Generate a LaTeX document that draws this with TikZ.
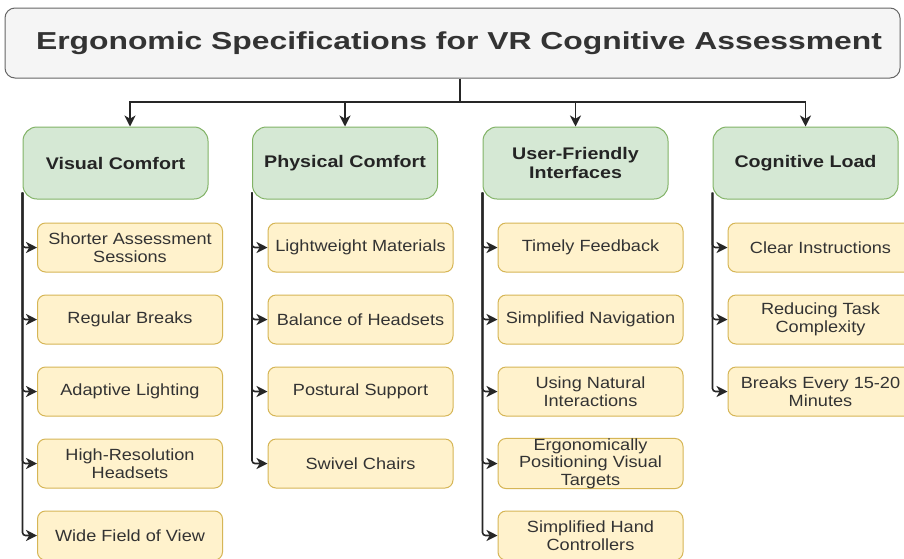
\documentclass[tikz,border=0pt]{standalone}
\usepackage{fontspec}
\setmainfont{Liberation Sans}
\newfontfamily\titlef[FakeStretch=1.3]{Liberation Sans}
\newfontfamily\catf[FakeStretch=1.17]{Liberation Sans}
\newfontfamily\childf[FakeStretch=1.12]{Liberation Sans}
\usetikzlibrary{arrows.meta}
\definecolor{titlefill}{HTML}{F5F5F5}
\definecolor{titledraw}{HTML}{666666}
\definecolor{txt}{HTML}{333333}
\definecolor{catfill}{HTML}{D5E8D4}
\definecolor{catdraw}{HTML}{82B366}
\definecolor{leaffill}{HTML}{FFF2CC}
\definecolor{leafdraw}{HTML}{D6B656}
\begin{document}
\begin{tikzpicture}[x=1pt,y=-1pt,
 titlebox/.style={draw=titledraw,fill=titlefill,rounded corners=10pt,line width=1pt,minimum width=895pt,minimum height=70pt,inner sep=0pt,text=txt,font=\titlef\bfseries\fontsize{24.5}{28}\selectfont},
 catbox/.style={draw=catdraw,fill=catfill,rounded corners=14pt,line width=1pt,minimum width=185pt,minimum height=72pt,inner sep=0pt,align=center,text=txt!70!black,font=\catf\bfseries\fontsize{16.8}{19}\selectfont},
 leafbox/.style={draw=leafdraw,fill=leaffill,rounded corners=8pt,line width=1pt,minimum width=185pt,minimum height=49pt,inner sep=0pt,align=center,text=txt,font=\childf\fontsize{16.2}{17.5}\selectfont},
 conn/.style={draw=black!85,line width=1.6pt,arrows={-Stealth[length=11pt,width=11pt,inset=3.2pt]}},
 trunk/.style={draw=black!85,line width=1.6pt},
]
\useasboundingbox (0,0) rectangle (904,558);
\fill[white] (0,0) rectangle (904,558);

\node[titlebox] (title) at (452.5,43) {\hspace*{13pt}Ergonomic Specifications for VR Cognitive Assessment};

\node[catbox] (c1) at (115.5,163) {Visual Comfort};
\node[catbox] (c2) at (345,163) {Physical Comfort};
\node[catbox] (c3) at (575.5,163) {User-Friendly\\Interfaces};
\node[catbox] (c4) at (805.5,163) {Cognitive Load};

\node[leafbox] (l11) at (130,247.5) {Shorter Assessment\\Sessions};
\node[leafbox] (l12) at (130,319.5) {Regular Breaks};
\node[leafbox] (l13) at (130,391.5) {Adaptive Lighting};
\node[leafbox] (l14) at (130,463.5) {High-Resolution\\Headsets};
\node[leafbox] (l15) at (130,535.5) {Wide Field of View};

\node[leafbox] (l21) at (360.5,247.5) {Lightweight Materials};
\node[leafbox] (l22) at (360.5,319.5) {Balance of Headsets};
\node[leafbox] (l23) at (360.5,391.5) {Postural Support};
\node[leafbox] (l24) at (360.5,463.5) {Swivel Chairs};

\node[leafbox] (l31) at (590.5,247.5) {Timely Feedback};
\node[leafbox] (l32) at (590.5,319.5) {Simplified Navigation};
\node[leafbox] (l33) at (590.5,391.5) {Using Natural\\Interactions};
\node[leafbox] (l34) at (590.5,463.5) {Ergonomically\\Positioning Visual\\Targets};
\node[leafbox] (l35) at (590.5,535.5) {Simplified Hand\\Controllers};

\node[leafbox] (l41) at (820.5,247.5) {Clear Instructions};
\node[leafbox] (l42) at (820.5,319.5) {Reducing Task\\Complexity};
\node[leafbox] (l43) at (820.5,391.5) {Breaks Every 15-20\\Minutes};

% top connectors
\coordinate (hub) at (460,102);
\draw[trunk] (title.south -| hub) -- (hub);
\draw[conn] (hub) -| ([xshift=14.5pt]c1.north);
\draw[conn] (hub) -| (c2.north);
\draw[conn] (hub) -| (c3.north);
\draw[conn] (hub) -| (c4.north);

% trunks
\coordinate (t1) at ([yshift=7pt]c1.south west);
\coordinate (t2) at ([yshift=7pt]c2.south west);
\coordinate (t3) at ([yshift=7pt]c3.south west);
\coordinate (t4) at ([yshift=7pt]c4.south west);

\foreach \l in {l11,l12,l13,l14,l15} \draw[conn,rounded corners=3pt] (t1) |- (\l.west);
\foreach \l in {l21,l22,l23,l24} \draw[conn,rounded corners=3pt] (t2) |- (\l.west);
\foreach \l in {l31,l32,l33,l34,l35} \draw[conn,rounded corners=3pt] (t3) |- (\l.west);
\foreach \l in {l41,l42,l43} \draw[conn,rounded corners=3pt] (t4) |- (\l.west);
\end{tikzpicture}
\end{document}
